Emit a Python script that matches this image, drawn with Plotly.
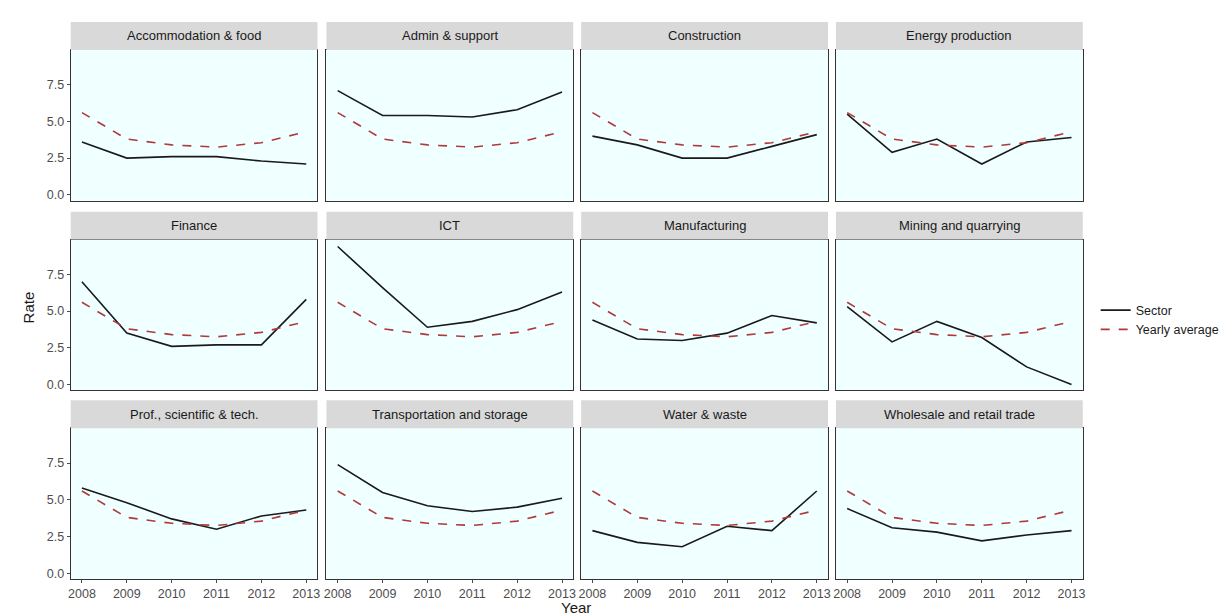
import plotly.graph_objects as go
from plotly.subplots import make_subplots

years = [2008, 2009, 2010, 2011, 2012, 2013]
yearly_average = [5.6, 3.8, 3.4, 3.25, 3.55, 4.3]

sectors = [
    "Accommodation & food", "Admin & support", "Construction", "Energy production",
    "Finance", "ICT", "Manufacturing", "Mining and quarrying",
    "Prof., scientific & tech.", "Transportation and storage", "Water & waste",
    "Wholesale and retail trade",
]
accommodation = [3.6, 2.5, 2.6, 2.6, 2.3, 2.1]
admin = [7.1, 5.4, 5.4, 5.3, 5.8, 7.0]
construction = [4.0, 3.4, 2.5, 2.5, 3.3, 4.1]
energy = [5.5, 2.9, 3.8, 2.1, 3.6, 3.9]
finance = [7.0, 3.5, 2.6, 2.7, 2.7, 5.8]
ict = [9.4, 6.6, 3.9, 4.3, 5.1, 6.3]
manufacturing = [4.4, 3.1, 3.0, 3.5, 4.7, 4.2]
mining = [5.3, 2.9, 4.3, 3.2, 1.2, 0.0]
prof = [5.8, 4.8, 3.7, 3.0, 3.9, 4.3]
transport = [7.4, 5.5, 4.6, 4.2, 4.5, 5.1]
water = [2.9, 2.1, 1.8, 3.2, 2.9, 5.6]
wholesale = [4.4, 3.1, 2.8, 2.2, 2.6, 2.9]
sector_values = [accommodation, admin, construction, energy, finance, ict,
                 manufacturing, mining, prof, transport, water, wholesale]

y_ticks = [0.0, 2.5, 5.0, 7.5]
y_tick_text = ["0.0", "2.5", "5.0", "7.5"]

W, H = 1228, 616
col_px = [(60, 308), (317, 565), (573, 821), (829, 1077)]
row_px = [(42, 193), (232, 383), (421, 572)]
strip_h = 28

fig = make_subplots(rows=3, cols=4)
FONT = "Liberation Sans, Arial, sans-serif"

for i, (name, vals) in enumerate(zip(sectors, sector_values)):
    r, c = i // 4, i % 4
    fig.add_trace(go.Scatter(x=years, y=vals, mode="lines", name="Sector",
                             line=dict(color="#1a1a1a", width=1.6),
                             legendgroup="s", showlegend=(i == 0)), row=r + 1, col=c + 1)
    fig.add_trace(go.Scatter(x=years, y=yearly_average, mode="lines", name="Yearly average",
                             line=dict(color="#B03A3A", width=1.6, dash="dash"),
                             legendgroup="a", showlegend=(i == 0)), row=r + 1, col=c + 1)

shapes = []
annotations = []
for i, name in enumerate(sectors):
    r, c = i // 4, i % 4
    x0, x1 = col_px[c]
    y0, y1 = row_px[r]
    n = i + 1
    xa = "xaxis" if n == 1 else f"xaxis{n}"
    ya = "yaxis" if n == 1 else f"yaxis{n}"
    fig.layout[xa].update(
        domain=[x0 / W, x1 / W], range=[2007.75, 2013.25],
        tickvals=years, ticktext=[str(y) for y in years],
        showticklabels=(r == 2), ticks="outside" if r == 2 else "", ticklen=3,
        tickcolor="#4d4d4d", showgrid=False, zeroline=False,
        showline=True, mirror=True, linecolor="#333333", linewidth=1,
        tickfont=dict(family=FONT, size=12.5, color="#4d4d4d"),
    )
    fig.layout[ya].update(
        domain=[1 - y1 / H, 1 - y0 / H], range=[-0.4, 9.87],
        tickvals=y_ticks, ticktext=y_tick_text,
        showticklabels=(c == 0), ticks="outside" if c == 0 else "", ticklen=3,
        tickcolor="#4d4d4d", showgrid=False, zeroline=False,
        showline=True, mirror=True, linecolor="#333333", linewidth=1,
        tickfont=dict(family=FONT, size=12.5, color="#4d4d4d"),
    )
    # panel background
    shapes.append(dict(type="rect", xref="paper", yref="paper", layer="below",
                       x0=x0 / W, x1=x1 / W, y0=1 - y1 / H, y1=1 - y0 / H,
                       fillcolor="#F0FFFF", line=dict(width=0)))
    # strip
    shapes.append(dict(type="rect", xref="paper", yref="paper",
                       x0=x0 / W, x1=x1 / W, y0=1 - y0 / H, y1=1 - (y0 - strip_h) / H,
                       fillcolor="#D9D9D9", line=dict(width=0)))
    annotations.append(dict(text=name, xref="paper", yref="paper",
                            x=(x0 + x1) / 2 / W, y=1 - (y0 - strip_h / 2) / H,
                            showarrow=False, xanchor="center", yanchor="middle",
                            font=dict(family=FONT, size=13, color="#1a1a1a")))

annotations.append(dict(text="Year", xref="paper", yref="paper", x=568 / W, y=1 - 600 / H,
                        showarrow=False, xanchor="center", yanchor="middle",
                        font=dict(family=FONT, size=15, color="#1a1a1a")))
annotations.append(dict(text="Rate", xref="paper", yref="paper", x=18 / W, y=1 - 300 / H,
                        showarrow=False, xanchor="center", yanchor="middle", textangle=-90,
                        font=dict(family=FONT, size=15, color="#1a1a1a")))

fig.update_layout(
    width=W, height=H, margin=dict(l=0, r=0, t=0, b=0),
    paper_bgcolor="white", plot_bgcolor="rgba(0,0,0,0)",
    shapes=shapes, annotations=annotations,
    legend=dict(x=1090 / W, y=1 - 288 / H, xanchor="left", yanchor="top",
                font=dict(family=FONT, size=12.5, color="#1a1a1a"),
                bgcolor="rgba(0,0,0,0)", itemwidth=30, tracegroupgap=0),
)

fig.write_html("out.html")
